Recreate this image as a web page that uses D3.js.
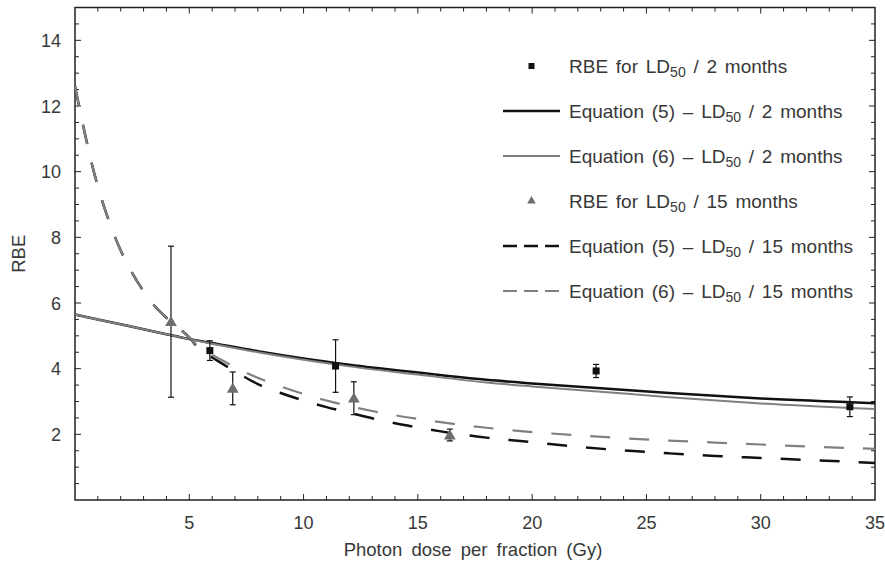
<!DOCTYPE html>
<html>
<head>
<meta charset="utf-8">
<script src="https://cdn.jsdelivr.net/npm/d3@7"></script>
<style>
body { margin: 0; background: #fff; }
text { font-family: Arial, "Liberation Sans", sans-serif; fill: #383838; }
</style>
</head>
<body>
<div id="chart"></div>
<script>
// measured points, RBE for LD50 / 2 months (black squares)
var sqDose = [5.9, 11.4, 22.8, 33.9];
var sqRbe = [4.55, 4.08, 3.93, 2.84];
var sqErr = [0.3, 0.8, 0.2, 0.3];

// measured points, RBE for LD50 / 15 months (grey triangles)
var triDose = [4.2, 6.9, 12.2, 16.4];
var triRbe = [5.43, 3.4, 3.1, 1.98];
var triErr = [2.3, 0.5, 0.5, 0.18];

// equation curves
var solidDose = [0, 1, 2, 3, 4, 4.8, 6, 8, 10, 12, 15, 18, 20, 23, 26, 30, 35];
var eq5Two = [5.65, 5.5, 5.35, 5.2, 5.05, 4.93, 4.78, 4.53, 4.31, 4.12, 3.88, 3.66, 3.55, 3.4, 3.26, 3.09, 2.95];
var eq6Two = [5.65, 5.5, 5.35, 5.2, 5.05, 4.93, 4.76, 4.5, 4.27, 4.07, 3.82, 3.58, 3.46, 3.3, 3.13, 2.94, 2.77];

var dashDose = [0, 0.25, 0.5, 0.75, 1, 1.25, 1.5, 2, 2.5, 3, 3.5, 4, 4.5, 5, 5.5, 6, 7, 8, 9, 10, 11, 12, 13, 14, 15, 16, 17, 18, 19, 20, 22, 24, 26, 28, 30, 32, 35];
var eq5Fifteen = [12.6, 11.75, 10.95, 10.2, 9.55, 8.98, 8.47, 7.6, 6.92, 6.36, 5.9, 5.55, 5.26, 4.95, 4.55, 4.34, 3.92, 3.53, 3.26, 3.03, 2.83, 2.66, 2.49, 2.34, 2.21, 2.09, 1.99, 1.9, 1.83, 1.76, 1.62, 1.51, 1.42, 1.34, 1.28, 1.22, 1.13];
var eq6Fifteen = [12.6, 11.75, 10.95, 10.2, 9.55, 8.98, 8.47, 7.6, 6.92, 6.36, 5.9, 5.55, 5.26, 4.95, 4.6, 4.42, 4.05, 3.72, 3.46, 3.23, 3.03, 2.86, 2.71, 2.58, 2.47, 2.37, 2.28, 2.2, 2.13, 2.07, 1.97, 1.88, 1.81, 1.75, 1.69, 1.63, 1.56];

var xTickLabels = [5, 10, 15, 20, 25, 30, 35];
var yTickLabels = [2, 4, 6, 8, 10, 12, 14];

var legendLabels = [
  ["RBE  for LD", " / 2 months"],
  ["Equation  (5) \u2013 LD", " / 2 months"],
  ["Equation  (6) \u2013 LD", " / 2 months"],
  ["RBE  for LD", " / 15 months"],
  ["Equation  (5) \u2013 LD", " / 15 months"],
  ["Equation  (6) \u2013 LD", " / 15 months"]
];

//setting dimensions and margins
var margin = {top: 7.5, right: 10, bottom: 62, left: 75},
width = 885 - margin.left - margin.right,
height = 562 - margin.top - margin.bottom;

var svg = d3.select("#chart")
.append("svg")
.attr("width", 885)
.attr("height", 562)
.append("g")
.attr("transform", "translate(" + margin.left + "," + margin.top + ")");

var x = d3.scaleLinear().domain([0, 35]).range([0, width]);
var y = d3.scaleLinear().domain([0, 15]).range([height, 0]);

var grey = "#808080";
var axisColor = "#222";

//ticks on all four sides, pointing inward
var xMinor = d3.range(1, 35, 1);
var yMinor = d3.range(0.5, 15, 0.5);

function tickLen(v, step) { return Math.abs(v / step - Math.round(v / step)) < 1e-6 ? 6 : 4; }

svg.append("g").selectAll("line.xb")
  .data(xMinor).enter().append("line")
  .attr("x1", d => x(d)).attr("x2", d => x(d))
  .attr("y1", height).attr("y2", d => height - tickLen(d, 5))
  .attr("stroke", axisColor).attr("stroke-width", 1);
svg.append("g").selectAll("line.xt")
  .data(xMinor).enter().append("line")
  .attr("x1", d => x(d)).attr("x2", d => x(d))
  .attr("y1", 0).attr("y2", d => tickLen(d, 5))
  .attr("stroke", axisColor).attr("stroke-width", 1);
svg.append("g").selectAll("line.yl")
  .data(yMinor).enter().append("line")
  .attr("y1", d => y(d)).attr("y2", d => y(d))
  .attr("x1", 0).attr("x2", d => tickLen(d, 2))
  .attr("stroke", axisColor).attr("stroke-width", 1);
svg.append("g").selectAll("line.yr")
  .data(yMinor).enter().append("line")
  .attr("y1", d => y(d)).attr("y2", d => y(d))
  .attr("x1", width).attr("x2", d => width - tickLen(d, 2))
  .attr("stroke", axisColor).attr("stroke-width", 1);

//frame
svg.append("rect")
  .attr("x", 0).attr("y", 0)
  .attr("width", width).attr("height", height)
  .attr("fill", "none").attr("stroke", axisColor).attr("stroke-width", 1.5);

//tick labels
svg.append("g").selectAll("text")
  .data(xTickLabels).enter().append("text")
  .attr("x", d => x(d)).attr("y", height + 29)
  .attr("text-anchor", "middle")
  .style("font-size", "18px")
  .text(d => d);
svg.append("g").selectAll("text")
  .data(yTickLabels).enter().append("text")
  .attr("x", -14).attr("y", d => y(d) + 6.5)
  .attr("text-anchor", "end")
  .style("font-size", "18px")
  .text(d => d);

//axis titles
svg.append("text")
  .attr("x", width / 2 - 2).attr("y", height + 56)
  .attr("text-anchor", "middle")
  .style("font-size", "18.5px")
  .style("word-spacing", "4px")
  .text("Photon dose per fraction (Gy)");
svg.append("text")
  .attr("transform", "translate(" + (-50) + "," + (height / 2) + ") rotate(-90)")
  .attr("text-anchor", "middle")
  .style("font-size", "18.5px")
  .text("RBE");

//curves
var line = d3.line()
  .x(d => x(d[0])).y(d => y(d[1]))
  .curve(d3.curveMonotoneX);

var curves = [
  {xs: solidDose, ys: eq5Two, color: "#111", w: 2.5, dash: null},
  {xs: solidDose, ys: eq6Two, color: grey, w: 2, dash: null},
  {xs: dashDose, ys: eq5Fifteen, color: "#111", w: 2.5, dash: "20,19"},
  {xs: dashDose, ys: eq6Fifteen, color: grey, w: 2.2, dash: "20,19"}
];

var plot = svg.append("g");
curves.forEach(function(c) {
  plot.append("path")
    .datum(d3.zip(c.xs, c.ys))
    .attr("d", line)
    .attr("fill", "none")
    .attr("stroke", c.color)
    .attr("stroke-width", c.w)
    .attr("stroke-dasharray", c.dash);
});

//error bars
function errorBars(xs, ys, es) {
  var g = plot.append("g").attr("stroke", "#111").attr("stroke-width", 1.2);
  xs.forEach(function(d, i) {
    var top = y(ys[i] + es[i]), bot = y(ys[i] - es[i]), cx = x(d);
    g.append("line").attr("x1", cx).attr("x2", cx).attr("y1", top).attr("y2", bot);
    g.append("line").attr("x1", cx - 3).attr("x2", cx + 3).attr("y1", top).attr("y2", top);
    g.append("line").attr("x1", cx - 3).attr("x2", cx + 3).attr("y1", bot).attr("y2", bot);
  });
}
errorBars(sqDose, sqRbe, sqErr);
errorBars(triDose, triRbe, triErr);

var triangle = d3.symbol().type(d3.symbolTriangle).size(60);

//markers
plot.selectAll(".sq")
  .data(d3.zip(sqDose, sqRbe)).enter().append("rect")
  .attr("x", d => x(d[0]) - 3.5).attr("y", d => y(d[1]) - 3.5)
  .attr("width", 7).attr("height", 7)
  .attr("fill", "#111");
plot.selectAll(".tri")
  .data(d3.zip(triDose, triRbe)).enter().append("path")
  .attr("d", triangle)
  .attr("transform", d => "translate(" + x(d[0]) + "," + (y(d[1]) + 1) + ")")
  .attr("fill", "#6e6e6e");

//legend
var legend = svg.append("g").attr("transform", "translate(" + (503 - margin.left) + "," + (66 - margin.top) + ")");
legendLabels.forEach(function(l, i) {
  var row = legend.append("g").attr("transform", "translate(0," + (i * 45) + ")");
  if (i == 0) {
    row.append("rect").attr("x", 25.5).attr("y", -3).attr("width", 6).attr("height", 6).attr("fill", "#111");
  } else if (i == 3) {
    row.append("path").attr("d", d3.symbol().type(d3.symbolTriangle).size(32))
      .attr("transform", "translate(28.5,0)").attr("fill", "#6e6e6e");
  } else {
    var c = curves[i < 3 ? i - 1 : i - 2];
    row.append("line").attr("x1", 0).attr("x2", 57).attr("y1", 0).attr("y2", 0)
      .attr("stroke", c.color).attr("stroke-width", c.w)
      .attr("stroke-dasharray", c.dash ? "14,7" : null);
  }
  var t = row.append("text").attr("x", 66).attr("y", 7)
    .style("font-size", "19px").style("word-spacing", "2.5px");
  t.append("tspan").text(l[0]);
  t.append("tspan").attr("dy", 4).style("font-size", "14px").text("50");
  t.append("tspan").attr("dy", -4).text(l[1]);
});
</script>
</body>
</html>
